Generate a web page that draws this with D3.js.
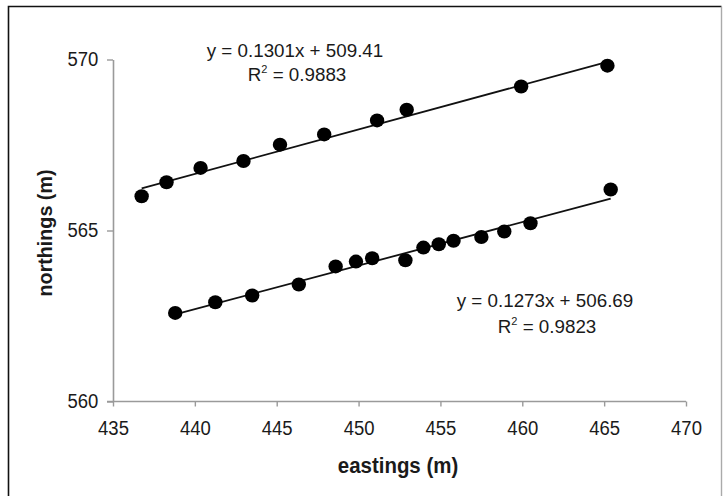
<!DOCTYPE html>
<head>
    <meta charset="utf-8">
    <script src="https://cdn.jsdelivr.net/npm/d3@7"></script>
    <title>northings vs eastings</title>
    <style>
        body { margin: 0; background: #fff; }
        text { font-family: "Liberation Sans", Arial, sans-serif; fill: #1a1a1a; }
    </style>
</head>
<body>
    <div id="chart"></div>
    <script>
        // upper line of points
        const eastA = [436.75, 438.27, 440.35, 442.97, 445.2, 447.9, 451.13, 452.94, 459.93, 465.2];
        const northA = [566.0, 566.41, 566.83, 567.03, 567.51, 567.81, 568.22, 568.53, 569.21, 569.82];
        // lower line of points
        const eastB = [438.8, 441.25, 443.5, 446.35, 448.6, 449.84, 450.83, 452.86, 453.96, 454.9, 455.8, 457.5, 458.9, 460.5, 465.4];
        const northB = [562.59, 562.9, 563.1, 563.42, 563.95, 564.09, 564.19, 564.13, 564.5, 564.6, 564.7, 564.81, 564.97, 565.21, 566.2];
        // trendline equations shown on the chart
        const fitA = { slope: 0.1301, icpt: 509.41, r2: "0.9883" };
        const fitB = { slope: 0.1273, icpt: 506.69, r2: "0.9823" };
        const xTicks = [435, 440, 445, 450, 455, 460, 465, 470];
        const yTicks = [560, 565, 570];

        const width = 724, height = 496;
        const tickFs = 19.5, tickSx = 0.95; // tick labels look a bit tall/narrow

        const svg = d3.select("#chart").append("svg")
            .attr("width", width)
            .attr("height", height);

        // frame (bottom edge is cut off)
        svg.append("path")
            .attr("d", "M8.5,500V6.5H721.5")
            .attr("fill", "none")
            .attr("stroke", "#111")
            .attr("stroke-width", 1.6);
        svg.append("path")
            .attr("d", "M721.5,6.5V500")
            .attr("fill", "none")
            .attr("stroke", "#aaa")
            .attr("stroke-width", 1.4);

        const x = d3.scaleLinear().domain([435, 470]).range([113, 686]);
        const y = d3.scaleLinear().domain([560, 570]).range([401.5, 59.5]);

        // x axis
        const gx = svg.append("g")
            .attr("transform", `translate(0,${y(560)})`)
            .call(d3.axisBottom(x).tickValues(xTicks).tickSize(5).tickSizeOuter(0));
        gx.select(".domain").attr("stroke", "#9a9a9a").attr("stroke-width", 1.6)
            .attr("d", `M${x(435) - 6},0H${x(470)}`);
        gx.selectAll(".tick line").attr("stroke", "#9a9a9a").attr("stroke-width", 1.4);
        gx.selectAll(".tick text")
            .attr("font-size", tickFs)
            .attr("fill", "#1a1a1a")
            .attr("x", 0)
            .attr("y", 34)
            .attr("dy", 0)
            .attr("transform", `scale(${tickSx},1)`);

        // y axis
        const gy = svg.append("g")
            .attr("transform", `translate(${x(435)},0)`)
            .call(d3.axisLeft(y).tickValues(yTicks).tickSize(6).tickSizeOuter(0));
        gy.select(".domain").attr("stroke", "#9a9a9a").attr("stroke-width", 1.6);
        gy.selectAll(".tick line").attr("stroke", "#9a9a9a").attr("stroke-width", 1.4);
        gy.selectAll(".tick text")
            .attr("font-size", tickFs)
            .attr("fill", "#1a1a1a")
            .attr("x", -14.7 / tickSx)
            .attr("dy", "0.3em")
            .attr("transform", `scale(${tickSx},1)`);

        // axis titles
        svg.append("text")
            .attr("transform", "translate(398,473) scale(0.93,1)")
            .attr("text-anchor", "middle")
            .attr("font-size", 22)
            .attr("font-weight", "bold")
            .text("eastings (m)");

        svg.append("text")
            .attr("transform", "translate(52,233) scale(1.05,1) rotate(-90)")
            .attr("text-anchor", "middle")
            .attr("font-size", 19.7)
            .attr("font-weight", "bold")
            .text("northings (m)");

        // trendlines
        function drawFit(xs, fit) {
            const ends = d3.extent(xs);
            svg.append("line")
                .attr("x1", x(ends[0])).attr("y1", y(fit.slope * ends[0] + fit.icpt))
                .attr("x2", x(ends[1])).attr("y2", y(fit.slope * ends[1] + fit.icpt))
                .attr("stroke", "#111")
                .attr("stroke-width", 1.8);
        }
        drawFit(eastA, fitA);
        drawFit(eastB, fitB);

        // points
        function drawPoints(xs, ys) {
            svg.append("g").selectAll("ellipse")
                .data(xs.map((d, i) => [d, ys[i]]))
                .enter().append("ellipse")
                .attr("cx", d => x(d[0]))
                .attr("cy", d => y(d[1]))
                .attr("rx", 7.2)
                .attr("ry", 7)
                .attr("fill", "#000");
        }
        drawPoints(eastA, northA);
        drawPoints(eastB, northB);

        // equation labels
        function drawLabel(cx, cy, gap, fit) {
            svg.append("text")
                .attr("transform", `translate(${cx},${cy})`)
                .attr("text-anchor", "middle")
                .attr("font-size", 18.8)
                .text(`y = ${fit.slope}x + ${fit.icpt}`);
            const r = svg.append("text")
                .attr("transform", `translate(${cx + 2},${cy + gap})`)
                .attr("text-anchor", "middle")
                .attr("font-size", 18.8);
            r.append("tspan").text("R");
            r.append("tspan").attr("font-size", 11).attr("dy", -8).text("2");
            r.append("tspan").attr("dy", 8).text(" = " + fit.r2);
        }
        drawLabel(295, 56.5, 24, fitA);
        drawLabel(545, 306.5, 26, fitB);
    </script>
</body>
